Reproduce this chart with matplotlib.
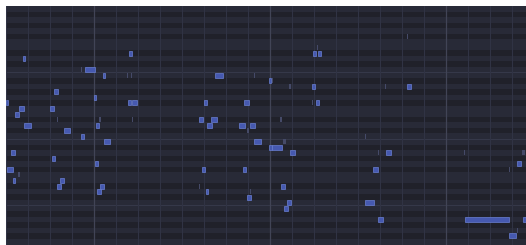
import matplotlib
matplotlib.use("Agg")
import matplotlib.pyplot as plt
import matplotlib.patches as patches

# piano roll view: x in beats, y in midi pitch
view_start = 4.0
view_beats = 23.64
top_pitch = 83
n_rows = 43.14
beats_per_bar = 8
black_keys = [1, 3, 6, 8, 10]

note_start = [22.23, 9.59, 4.77, 17.95, 18.18, 18.14, 7.59, 7.41, 8.41, 9.50,
              9.68, 13.50, 15.27, 15.95, 16.09, 16.86, 17.91, 21.23, 22.23, 6.18,
              8.00, 4.00, 9.55, 9.73, 13.00, 14.82, 18.09, 17.91, 4.59, 6.00,
              4.41, 6.32, 8.23, 9.73, 16.45, 12.77, 13.32, 4.82, 8.09, 13.14,
              14.59, 15.09, 14.95, 6.64, 7.41, 20.32, 8.45, 15.27, 16.59, 15.95,
              16.09, 4.23, 16.91, 20.91, 21.27, 24.82, 27.45, 6.09, 27.23, 8.05,
              4.05, 12.91, 14.77, 20.68, 26.86, 4.55, 4.32, 6.45, 12.77, 6.32,
              16.50, 8.27, 13.09, 15.09, 8.14, 14.95, 20.32, 16.77, 16.64, 20.91,
              24.86, 27.50, 27.23, 26.86]
note_len = [0.05, 0.14, 0.09, 0.14, 0.14, 0.05, 0.45, 0.05, 0.09, 0.05,
            0.05, 0.36, 0.05, 0.09, 0.05, 0.09, 0.14, 0.05, 0.18, 0.18,
            0.09, 0.09, 0.14, 0.23, 0.14, 0.23, 0.14, 0.05, 0.23, 0.18,
            0.18, 0.05, 0.09, 0.05, 0.09, 0.18, 0.27, 0.32, 0.14, 0.23,
            0.27, 0.23, 0.09, 0.27, 0.14, 0.05, 0.27, 0.32, 0.14, 0.14,
            0.45, 0.18, 0.23, 0.05, 0.23, 0.05, 0.14, 0.14, 0.18, 0.14,
            0.27, 0.14, 0.14, 0.23, 0.05, 0.09, 0.09, 0.18, 0.05, 0.18,
            0.18, 0.18, 0.09, 0.05, 0.18, 0.18, 0.41, 0.18, 0.18, 0.23,
            2.00, 0.18, 0.05, 0.32]
note_pitch = [78, 75, 74, 75, 75, 76, 72, 72, 71, 71,
              71, 71, 71, 70, 70, 69, 69, 69, 69, 68,
              67, 66, 66, 66, 66, 66, 66, 66, 65, 65,
              64, 63, 63, 63, 63, 63, 63, 62, 62, 62,
              62, 62, 61, 61, 60, 60, 59, 59, 59, 58,
              58, 57, 57, 57, 57, 57, 57, 56, 55, 55,
              54, 54, 54, 54, 54, 53, 52, 52, 51, 51,
              51, 51, 50, 50, 50, 49, 48, 48, 47, 45,
              45, 45, 43, 42]
note_ghost = [1, 0, 0, 0, 0, 1, 0, 1, 0, 1,
              1, 0, 1, 0, 1, 1, 0, 1, 0, 0,
              0, 0, 0, 0, 0, 0, 0, 1, 0, 0,
              0, 1, 1, 1, 1, 0, 0, 0, 0, 0,
              0, 0, 1, 0, 0, 1, 0, 0, 1, 0,
              0, 0, 0, 1, 0, 1, 1, 0, 0, 0,
              0, 0, 0, 0, 1, 1, 0, 0, 1, 0,
              0, 0, 0, 1, 0, 0, 0, 0, 0, 0,
              0, 0, 1, 0]

fig = plt.figure(figsize=(5.26, 2.45), dpi=100)
fig.patch.set_facecolor("white")
ax = fig.add_axes([6 / 526, 0, 520 / 526, 239 / 245])

y_top = top_pitch + 0.5
y_bot = y_top - n_rows
ax.set_xlim(view_start, view_start + view_beats)
ax.set_ylim(y_bot, y_top)
ax.set_facecolor("#282a37")

# key rows
p = top_pitch
while p + 0.5 > y_bot:
    if p % 12 in black_keys:
        ax.axhspan(p - 0.5, p + 0.5, color="#20212a", lw=0, zorder=0)
    if p % 12 == 0:
        ax.axhline(p - 0.5, color="#353849", lw=0.8, zorder=1)
    p -= 1

# beat / bar lines
b = int(view_start)
while b < view_start + view_beats:
    if b % beats_per_bar == 0:
        ax.axvline(b, color="#414456", lw=0.9, zorder=1)
    else:
        ax.axvline(b, color="#303344", lw=0.8, zorder=1)
    b += 1

# notes
for s, l, pt, g in zip(note_start, note_len, note_pitch, note_ghost):
    if g:
        rect = patches.Rectangle((s, pt - 0.45), l, 0.9, facecolor="#454a68",
                                 edgecolor="none", zorder=2)
    else:
        rect = patches.Rectangle((s, pt - 0.45), l, 0.9, facecolor="#4659b0",
                                 edgecolor="#6a80d2", lw=0.5, zorder=3)
    ax.add_patch(rect)

ax.set_xticks([])
ax.set_yticks([])
for sp in ax.spines.values():
    sp.set_visible(False)

plt.savefig("out.png", dpi=100)
